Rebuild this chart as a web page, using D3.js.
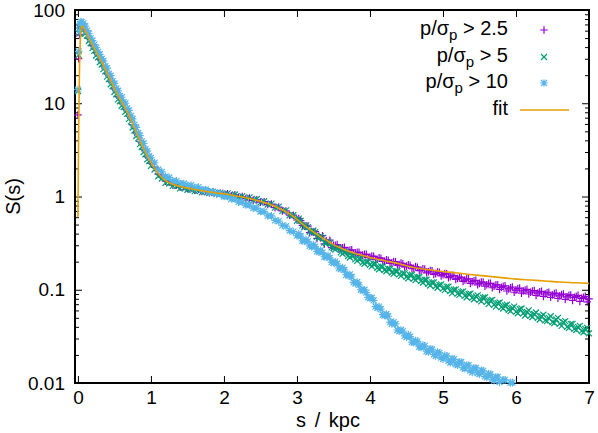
<html>
<head>
<meta charset="utf-8">
<style>
  body { margin: 0; background: #fff; }
  text { font-family: "Liberation Sans", Arial, Helvetica, sans-serif; }
</style>
</head>
<body>
<script src="https://cdnjs.cloudflare.com/ajax/libs/d3/7.8.5/d3.min.js"></script>
<script>
// separation s in kpc (shared grid for the three samples)
var sKpc = [0, 0.01, 0.02, 0.03, 0.04, 0.05,
  0.075, 0.1, 0.125, 0.15, 0.175, 0.2, 0.225, 0.25, 0.275, 0.3,
  0.325, 0.35, 0.375, 0.4, 0.425, 0.45, 0.475, 0.5, 0.525, 0.55,
  0.575, 0.6, 0.625, 0.65, 0.675, 0.7, 0.725, 0.75, 0.775, 0.8,
  0.825, 0.85, 0.875, 0.9, 0.925, 0.95, 0.975, 1.0,
  1.05, 1.1, 1.15, 1.2, 1.25, 1.3, 1.35, 1.4, 1.45, 1.5,
  1.55, 1.6, 1.65, 1.7, 1.75, 1.8, 1.85, 1.9, 1.95, 2.0,
  2.05, 2.1, 2.15, 2.2, 2.25, 2.3, 2.35, 2.4, 2.45, 2.5,
  2.55, 2.6, 2.65, 2.7, 2.75, 2.8, 2.85, 2.9, 2.95, 3.0,
  3.05, 3.1, 3.15, 3.2, 3.25, 3.3, 3.35, 3.4, 3.45, 3.5,
  3.55, 3.6, 3.65, 3.7, 3.75, 3.8, 3.85, 3.9, 3.95, 4.0,
  4.05, 4.1, 4.15, 4.2, 4.25, 4.3, 4.35, 4.4, 4.45, 4.5,
  4.55, 4.6, 4.65, 4.7, 4.75, 4.8, 4.85, 4.9, 4.95, 5.0,
  5.05, 5.1, 5.15, 5.2, 5.25, 5.3, 5.35, 5.4, 5.45, 5.5,
  5.55, 5.6, 5.65, 5.7, 5.75, 5.8, 5.85, 5.9, 5.95, 6.0,
  6.05, 6.1, 6.15, 6.2, 6.25, 6.3, 6.35, 6.4, 6.45, 6.5,
  6.55, 6.6, 6.65, 6.7, 6.75, 6.8, 6.85, 6.9, 6.95, 7.0,
  // in-between bins of the noisy tail
  3.025, 3.075, 3.125, 3.175, 3.225, 3.275, 3.325, 3.375, 3.425, 3.475,
  3.525, 3.575, 3.625, 3.675, 3.725, 3.775, 3.825, 3.875, 3.925, 3.975,
  4.025, 4.075, 4.125, 4.175, 4.225, 4.275, 4.325, 4.375, 4.425, 4.475,
  4.525, 4.575, 4.625, 4.675, 4.725, 4.775, 4.825, 4.875, 4.925, 4.975,
  5.025, 5.075, 5.125, 5.175, 5.225, 5.275, 5.325, 5.375, 5.425, 5.475,
  5.525, 5.575, 5.625, 5.675, 5.725, 5.775, 5.825, 5.875, 5.925, 5.975,
  6.025, 6.075, 6.125, 6.175, 6.225, 6.275, 6.325, 6.375, 6.425, 6.475,
  6.525, 6.575, 6.625, 6.675, 6.725, 6.775, 6.825, 6.875, 6.925, 6.975];

// p/sigma_p > 2.5
var sig25 = [7.5, 30, 54, 64, 67, 67,
  66, 60, 55.5, 49.5, 46.5, 41.5, 39, 35, 33, 29.5,
  28, 25, 23.5, 20.8, 19.6, 17.3, 16.3, 14.3, 13.5, 11.8,
  11.3, 10.1, 9.7, 8.7, 8.3, 7.3, 6.9, 5.9, 5.5, 4.8,
  4.5, 3.9, 3.68, 3.2, 3.04, 2.68, 2.56, 2.28,
  2.05, 1.74, 1.64, 1.46, 1.44, 1.33, 1.33, 1.26, 1.27, 1.21,
  1.22, 1.17, 1.19, 1.13, 1.15, 1.1, 1.12, 1.07, 1.09, 1.05,
  1.07, 1.02, 1.04, 0.98, 1.0, 0.95, 0.96, 0.91, 0.92, 0.87,
  0.88, 0.82, 0.83, 0.76, 0.77, 0.7, 0.7, 0.63, 0.63, 0.56,
  0.55, 0.48, 0.48, 0.42, 0.42, 0.375, 0.38, 0.335, 0.34, 0.3,
  0.305, 0.28, 0.285, 0.262, 0.268, 0.248, 0.252, 0.235, 0.24, 0.223,
  0.228, 0.212, 0.218, 0.202, 0.207, 0.194, 0.199, 0.186, 0.19, 0.179,
  0.183, 0.17, 0.174, 0.162, 0.167, 0.156, 0.16, 0.149, 0.154, 0.145,
  0.148, 0.138, 0.142, 0.132, 0.136, 0.127, 0.131, 0.122, 0.126, 0.117,
  0.121, 0.113, 0.117, 0.109, 0.113, 0.106, 0.11, 0.102, 0.107, 0.099,
  0.104, 0.097, 0.101, 0.094, 0.098, 0.092, 0.096, 0.09, 0.094, 0.088,
  0.092, 0.086, 0.09, 0.084, 0.088, 0.083, 0.087, 0.081, 0.085, 0.08,
  0.58, 0.49, 0.485, 0.41, 0.415, 0.355, 0.36, 0.31, 0.32, 0.283,
  0.3, 0.272, 0.281, 0.256, 0.266, 0.243, 0.252, 0.232, 0.24, 0.221,
  0.23, 0.211, 0.22, 0.201, 0.209, 0.192, 0.201, 0.184, 0.193, 0.176,
  0.185, 0.168, 0.177, 0.16, 0.168, 0.152, 0.161, 0.146, 0.155, 0.141,
  0.149, 0.135, 0.143, 0.129, 0.137, 0.123, 0.131, 0.117, 0.125, 0.113,
  0.121, 0.109, 0.117, 0.105, 0.113, 0.101, 0.109, 0.097, 0.105, 0.094,
  0.103, 0.092, 0.099, 0.09, 0.097, 0.087, 0.095, 0.085, 0.093, 0.083,
  0.091, 0.081, 0.089, 0.079, 0.087, 0.077, 0.085, 0.075, 0.083, 0.074];

// p/sigma_p > 5
var sig5 = [13.5, 33, 56, 66, 69, 68,
  64, 56, 53, 46.5, 44, 39, 36.5, 32.5, 31, 27.5,
  26, 23.2, 22, 19.3, 18.2, 16, 15.2, 13.3, 12.5, 11,
  10.5, 9.4, 9.1, 8.1, 7.7, 6.8, 6.35, 5.5, 5.1, 4.45,
  4.2, 3.65, 3.42, 3.0, 2.84, 2.5, 2.4, 2.13,
  1.95, 1.65, 1.56, 1.4, 1.38, 1.3, 1.29, 1.22, 1.23, 1.18,
  1.19, 1.14, 1.16, 1.11, 1.14, 1.09, 1.12, 1.07, 1.1, 1.05,
  1.08, 1.02, 1.05, 0.98, 1.01, 0.95, 0.98, 0.91, 0.94, 0.86,
  0.89, 0.82, 0.84, 0.76, 0.78, 0.7, 0.71, 0.63, 0.63, 0.55,
  0.55, 0.47, 0.47, 0.41, 0.415, 0.36, 0.36, 0.315, 0.315, 0.28,
  0.283, 0.252, 0.255, 0.23, 0.233, 0.212, 0.215, 0.196, 0.2, 0.185,
  0.19, 0.172, 0.178, 0.163, 0.168, 0.153, 0.159, 0.146, 0.15, 0.138,
  0.143, 0.132, 0.136, 0.124, 0.128, 0.116, 0.12, 0.109, 0.113, 0.103,
  0.108, 0.097, 0.1, 0.091, 0.095, 0.086, 0.09, 0.082, 0.085, 0.078,
  0.082, 0.074, 0.077, 0.069, 0.072, 0.065, 0.068, 0.061, 0.064, 0.058,
  0.062, 0.056, 0.058, 0.053, 0.055, 0.05, 0.052, 0.047, 0.05, 0.045,
  0.048, 0.043, 0.045, 0.04, 0.043, 0.038, 0.04, 0.036, 0.038, 0.034,
  0.58, 0.49, 0.49, 0.42, 0.43, 0.37, 0.375, 0.32, 0.33, 0.285,
  0.27, 0.28, 0.243, 0.255, 0.222, 0.232, 0.204, 0.216, 0.19, 0.2,
  0.178, 0.19, 0.166, 0.177, 0.158, 0.167, 0.148, 0.158, 0.141, 0.15,
  0.133, 0.145, 0.127, 0.137, 0.119, 0.128, 0.111, 0.12, 0.105, 0.114,
  0.099, 0.108, 0.092, 0.101, 0.088, 0.096, 0.083, 0.091, 0.079, 0.087,
  0.075, 0.083, 0.07, 0.078, 0.066, 0.073, 0.063, 0.069, 0.059, 0.066,
  0.056, 0.063, 0.053, 0.06, 0.051, 0.057, 0.048, 0.054, 0.046, 0.052,
  0.044, 0.05, 0.041, 0.046, 0.039, 0.043, 0.037, 0.041, 0.035, 0.039];

// p/sigma_p > 10
var sig10 = [14, 36, 60, 71, 75, 74,
  72, 67, 60, 56, 50, 47, 42.5, 39.5, 35.5, 33.5,
  30, 28.5, 25, 23.8, 20.8, 19.8, 17.3, 16.3, 14.4, 13.6,
  12, 11.6, 10.3, 10, 8.8, 8.4, 7.3, 6.8, 5.9, 5.5,
  4.8, 4.5, 3.9, 3.7, 3.22, 3.07, 2.7, 2.6,
  2.3, 1.95, 1.84, 1.64, 1.6, 1.47, 1.47, 1.38, 1.38, 1.31,
  1.32, 1.25, 1.26, 1.18, 1.19, 1.12, 1.13, 1.06, 1.07, 1.0,
  1.0, 0.94, 0.94, 0.87, 0.87, 0.81, 0.81, 0.75, 0.75, 0.69,
  0.69, 0.62, 0.62, 0.555, 0.545, 0.49, 0.48, 0.43, 0.42, 0.38,
  0.375, 0.33, 0.33, 0.29, 0.29, 0.255, 0.25, 0.225, 0.22, 0.195,
  0.19, 0.167, 0.163, 0.142, 0.137, 0.117, 0.113, 0.098, 0.093, 0.081,
  0.077, 0.064, 0.062, 0.053, 0.052, 0.043, 0.043, 0.036, 0.036, 0.031,
  0.0315, 0.027, 0.028, 0.024, 0.025, 0.0215, 0.023, 0.0195, 0.021, 0.018,
  0.0195, 0.0165, 0.018, 0.0155, 0.0168, 0.0142, 0.0155, 0.013, 0.0145, 0.0124,
  0.0135, 0.0115, 0.0124, 0.0106, 0.0116, 0.0099, 0.0108, 0.0093, 0.0101, 0.0088,
  0.0094, 0.0083, 0.0088, 0.0079, 0.0083, 0.0075, 0.0078, 0.0071, 0.0074, 0.0068,
  0.007, 0.0065, 0.0066, 0.0062, 0.0063, 0.0059, 0.006, 0.0056, 0.0057, 0.0054,
  0.4, 0.335, 0.345, 0.295, 0.305, 0.258, 0.265, 0.226, 0.233, 0.198,
  0.2, 0.171, 0.173, 0.145, 0.146, 0.12, 0.121, 0.1, 0.1, 0.083,
  0.082, 0.066, 0.066, 0.054, 0.055, 0.045, 0.045, 0.037, 0.037, 0.032,
  0.033, 0.0275, 0.0285, 0.0245, 0.0255, 0.0219, 0.0232, 0.0203, 0.0215, 0.0187,
  0.0198, 0.0173, 0.0183, 0.0159, 0.0168, 0.0146, 0.0155, 0.0136, 0.0145, 0.0128,
  0.0137, 0.0118, 0.0126, 0.011, 0.0116, 0.0102, 0.0108, 0.0095, 0.0101, 0.0089,
  0.0094, 0.0085, 0.0089, 0.008, 0.0084, 0.0076, 0.0079, 0.0072, 0.0075, 0.0069,
  0.0071, 0.0066, 0.0068, 0.0063, 0.0064, 0.006, 0.0061, 0.0057, 0.0058, 0.0055];

// fitted model
var fitS = [0, 0.01, 0.02, 0.03, 0.04, 0.05, 0.06, 0.08, 0.1, 0.15, 0.2, 0.25, 0.3, 0.35,
  0.4, 0.45, 0.5, 0.55, 0.6, 0.65, 0.7, 0.75, 0.8, 0.85, 0.9, 0.95, 1.0, 1.05, 1.1, 1.15,
  1.2, 1.3, 1.4, 1.5, 1.6, 1.7, 1.8, 1.9, 2.0, 2.1, 2.2, 2.3, 2.4, 2.5, 2.6, 2.7, 2.8,
  2.9, 3.0, 3.1, 3.2, 3.3, 3.4, 3.5, 3.6, 3.7, 3.8, 3.9, 4.0, 4.2, 4.4, 4.6, 4.8, 5.0,
  5.2, 5.4, 5.6, 5.8, 6.0, 6.2, 6.4, 6.6, 6.8, 7.0];
var fitVal = [0.6, 5, 20, 42, 60, 67, 67, 64, 60, 50, 42, 35.5, 30, 25.5,
  21, 17.5, 14.5, 12, 10.3, 8.8, 7.4, 6.0, 4.85, 3.95, 3.25, 2.72, 2.32, 2.0, 1.76, 1.6,
  1.48, 1.35, 1.28, 1.23, 1.19, 1.15, 1.12, 1.09, 1.07, 1.04, 1.0, 0.97, 0.93, 0.89, 0.84, 0.78, 0.72,
  0.65, 0.57, 0.49, 0.43, 0.38, 0.34, 0.305, 0.28, 0.26, 0.245, 0.233, 0.222, 0.205, 0.19, 0.173, 0.164, 0.157,
  0.151, 0.145, 0.14, 0.135, 0.13, 0.127, 0.124, 0.121, 0.119, 0.117];

var xTicks = [0, 1, 2, 3, 4, 5, 6, 7];
var yTicks = [0.01, 0.1, 1, 10, 100];
var yTickLabels = ["0.01", "0.1", "1", "10", "100"];
var legendNames = ["2.5", "5", "10"];
var colors = ["#9400d3", "#009e73", "#56b4e9"];
var fitColor = "#e69f00";

var W = 598, H = 433;
var padL = 75, padR = 589, padT = 10, padB = 383;

var svg = d3.select("body").append("svg")
    .attr("width", W).attr("height", H);

var x = d3.scaleLinear().domain([-0.04, 7]).range([padL, padR]);
var y = d3.scaleLog().domain([0.01, 100]).range([padB, padT]);

// marker shapes like gnuplot pt 1, 2, 3
function plusPath(r) { return "M" + (-r) + ",0H" + r + "M0," + (-r) + "V" + r; }
function crossPath(r) { return "M" + (-r) + "," + (-r) + "L" + r + "," + r + "M" + (-r) + "," + r + "L" + r + "," + (-r); }
var markers = [plusPath(3.8), crossPath(3), plusPath(3.8) + crossPath(3)];

// axes
var minor = y.ticks().filter(function(v) { return yTicks.indexOf(v) < 0; });

var ga = svg.append("g");
ga.append("g").attr("transform", "translate(" + padL + ",0)")
    .call(d3.axisLeft(y).tickValues(yTicks).tickFormat(function(d, i) { return yTickLabels[i]; })
        .tickSizeInner(-7).tickSizeOuter(0).tickPadding(10));
ga.append("g").attr("transform", "translate(" + padL + ",0)")
    .call(d3.axisLeft(y).tickValues(minor).tickFormat("").tickSizeInner(-4).tickSizeOuter(0));
ga.append("g").attr("transform", "translate(" + padR + ",0)")
    .call(d3.axisRight(y).tickValues(yTicks).tickFormat("").tickSizeInner(-7).tickSizeOuter(0));
ga.append("g").attr("transform", "translate(" + padR + ",0)")
    .call(d3.axisRight(y).tickValues(minor).tickFormat("").tickSizeInner(-4).tickSizeOuter(0));
ga.append("g").attr("transform", "translate(0," + padB + ")")
    .call(d3.axisBottom(x).tickValues(xTicks).tickFormat(d3.format("d"))
        .tickSizeInner(-7).tickSizeOuter(0).tickPadding(8));
ga.append("g").attr("transform", "translate(0," + padT + ")")
    .call(d3.axisTop(x).tickValues(xTicks).tickFormat("").tickSizeInner(-7).tickSizeOuter(0));
ga.selectAll(".domain").remove();
ga.selectAll(".tick line").attr("stroke", "#000").attr("stroke-width", 1);
ga.selectAll(".tick text").attr("font-size", 19).attr("fill", "#000")
    .style("font-family", "'Liberation Sans', Arial, sans-serif");

svg.append("rect").attr("x", padL).attr("y", padT)
    .attr("width", padR - padL).attr("height", padB - padT)
    .attr("fill", "none").attr("stroke", "#000").attr("stroke-width", 2);

// axis titles
svg.append("text").attr("x", 328).attr("y", 427)
    .attr("text-anchor", "middle").attr("font-size", 20).attr("word-spacing", 3).text("s / kpc");
svg.append("text").attr("transform", "translate(20," + (padT + padB) / 2 + ") rotate(-90)")
    .attr("text-anchor", "middle").attr("font-size", 20).text("S(s)");

// data points
var series = [sig25, sig5, sig10];
series.forEach(function(vals, k) {
    var pts = sKpc.map(function(s, i) { return { s: s, v: vals[i] }; })
        .filter(function(d) { return d.v >= 0.01 && d.v <= 100; });
    svg.append("g").selectAll("path").data(pts).enter().append("path")
        .attr("transform", function(d) { return "translate(" + x(d.s) + "," + y(d.v) + ")"; })
        .attr("d", markers[k])
        .attr("fill", "none")
        .attr("stroke", colors[k])
        .attr("stroke-width", 1.2);
});

// fit line
svg.append("clipPath").attr("id", "plotclip").append("rect")
    .attr("x", padL).attr("y", padT).attr("width", padR - padL).attr("height", padB - padT);
var line = d3.line()
    .x(function(d) { return x(d[0]); })
    .y(function(d) { return y(d[1]); })
    .curve(d3.curveMonotoneX);
svg.append("path")
    .datum(fitS.map(function(s, i) { return [s, fitVal[i]]; }))
    .attr("clip-path", "url(#plotclip)")
    .attr("d", line)
    .attr("fill", "none").attr("stroke", fitColor).attr("stroke-width", 1.6);

// legend
var legY = [35, 62, 88];
legendNames.forEach(function(name, k) {
    var t = svg.append("text").attr("x", 508).attr("y", legY[k])
        .attr("text-anchor", "end").attr("font-size", 20);
    t.append("tspan").text("p/σ");
    t.append("tspan").attr("dy", 5).attr("font-size", 15).text("p");
    t.append("tspan").attr("dy", -5).text(" > " + name);
    svg.append("path").attr("transform", "translate(544," + (legY[k] - 5) + ")")
        .attr("d", markers[k]).attr("fill", "none")
        .attr("stroke", colors[k]).attr("stroke-width", 1.2);
});
svg.append("text").attr("x", 508).attr("y", 115)
    .attr("text-anchor", "end").attr("font-size", 20).text("fit");
svg.append("line").attr("x1", 520).attr("x2", 569).attr("y1", 110).attr("y2", 110)
    .attr("stroke", fitColor).attr("stroke-width", 1.6);
</script>
</body>
</html>
